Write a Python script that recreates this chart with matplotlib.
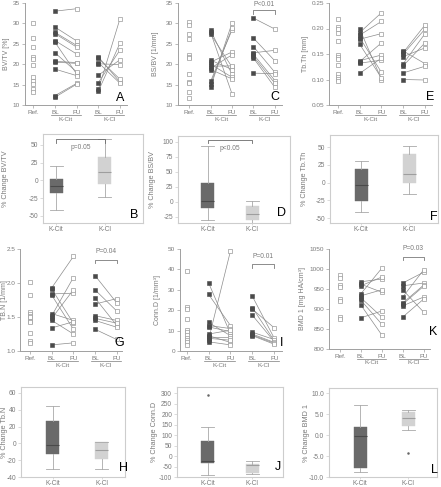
import matplotlib
matplotlib.use("Agg")
import matplotlib.pyplot as plt

plt.rcParams["font.family"] = ["Liberation Sans", "DejaVu Sans"]

W, H = 441, 487

# ---- scatter panels (Ref / BL / FU) ----
A_ref = [30.1, 26.5, 24.1, 21.8, 21.3, 19.8, 16.9, 15.8, 15.2, 13.8, 13.2]
A_cit_bl = [33.0, 29.1, 27.8, 27.5, 25.8, 25.4, 22.8, 20.7, 20.5, 18.8, 12.3, 11.9]
A_cit_fu = [33.6, 25.7, 24.6, 24.2, 22.5, 17.6, 18.1, 20.4, 20.2, 17.2, 15.3, 15.1]
A_cl_bl = [21.8, 21.4, 20.4, 20.1, 17.3, 15.5, 13.8, 13.4]
A_cl_fu = [15.6, 16.3, 15.3, 19.9, 21.1, 23.5, 31.2, 25.2]

C_ref = [30.3, 29.6, 27.4, 26.2, 22.2, 21.8, 21.5, 17.6, 15.7, 15.3, 13.2, 11.6]
C_cit_bl = [28.3, 27.8, 27.4, 21.0, 20.5, 20.0, 19.5, 19.0, 18.7, 15.8, 15.2, 14.4]
C_cit_fu = [17.5, 12.7, 19.3, 18.7, 23.0, 16.8, 19.6, 22.3, 16.4, 28.4, 28.8, 30.1]
C_cl_bl = [31.3, 26.4, 24.3, 22.8, 22.4, 21.9, 21.5, 17.8]
C_cl_fu = [28.6, 20.8, 18.0, 23.4, 16.0, 15.3, 14.3, 17.7]

E_ref = [0.218, 0.203, 0.200, 0.191, 0.175, 0.148, 0.144, 0.140, 0.128, 0.111, 0.104, 0.101, 0.097]
E_cit_bl = [0.199, 0.192, 0.187, 0.182, 0.179, 0.169, 0.137, 0.135, 0.132, 0.112]
E_cit_fu = [0.100, 0.231, 0.214, 0.114, 0.190, 0.103, 0.148, 0.172, 0.138, 0.142]
E_cl_bl = [0.156, 0.153, 0.150, 0.145, 0.131, 0.127, 0.113, 0.100]
E_cl_fu = [0.131, 0.207, 0.199, 0.162, 0.190, 0.172, 0.126, 0.099]

G_ref = [2.01, 1.83, 1.58, 1.55, 1.52, 1.50, 1.44, 1.42, 1.27, 1.15, 1.12]
G_cit_bl = [1.93, 1.91, 1.84, 1.82, 1.55, 1.52, 1.48, 1.45, 1.34, 1.09]
G_cit_fu = [2.39, 1.41, 1.85, 1.32, 1.45, 2.08, 1.90, 1.25, 1.43, 1.12]
G_cl_bl = [2.11, 1.90, 1.78, 1.69, 1.52, 1.48, 1.45, 1.32]
G_cl_fu = [1.71, 1.59, 1.38, 1.77, 1.45, 1.41, 1.35, 1.17]

I_ref = [39.0, 21.7, 20.8, 15.7, 10.5, 9.5, 8.0, 6.5, 5.3, 4.2, 3.0]
I_cit_bl = [33.5, 27.8, 14.0, 12.5, 11.8, 8.3, 7.5, 6.8, 6.2, 5.5, 4.5]
I_cit_fu = [8.5, 12.5, 7.5, 11.0, 9.5, 10.2, 4.2, 6.5, 5.3, 49.0, 3.0]
I_cl_bl = [26.8, 21.2, 20.5, 17.5, 9.2, 8.3, 7.8, 7.5]
I_cl_fu = [6.2, 5.0, 11.3, 4.6, 5.6, 4.2, 3.8, 3.3]

K_ref = [985, 978, 960, 955, 925, 920, 880, 876]
K_cit_bl = [968, 962, 958, 938, 933, 928, 922, 910, 878]
K_cit_fu = [975, 942, 980, 1002, 948, 880, 862, 835, 895]
K_cl_bl = [965, 958, 948, 930, 915, 912, 908, 880]
K_cl_fu = [992, 965, 892, 998, 960, 957, 930, 925]

# ---- box panels: (whislo, q1, med, q3, whishi) ----
B_cit = [-41, -17, -8, 2, 21]
B_cl = [-23, -5, 12, 33, 58]
D_cit = [-30, -10, 2, 32, 93]
D_cl = [-35, -30, -20, -7, 2]
F_cit = [-42, -26, -3, 19, 30]
F_cl = [-16, 0, 12, 40, 51]
H_cit = [-30, -13, -2, 26, 45]
H_cl = [-30, -19, -8, 1.5, 2]
J_cit = [-92, -31, -22, 72, 138]
J_cl = [-88, -81, -45, -38, -22]
J_cit_fliers = [290]
L_cit = [-8.8, -7.8, -0.3, 1.9, 7.2]
L_cl = [1.1, 2.2, 4.1, 5.4, 5.9]
L_cl_fliers = [-4.4]

SCATTER_TICKS = ["Ref.", "BL", "FU", "BL", "FU"]
GROUPS = ["K-Cit", "K-Cl"]

TXT = "#7a7a7a"
SPINE = "#a0a0a0"
FRAME = "#cdcdcd"

fig = plt.figure(figsize=(W / 100, H / 100), dpi=100)


def px_rect(l, t, r, b):
    return [l / W, 1 - b / H, (r - l) / W, (b - t) / H]


def letter(x, y, s):
    fig.text(x / W, 1 - y / H, s, fontsize=9, ha="center", va="center", color="black")


def scatter_panel(rect, xlim, ylim, yticks, ylabel, lab_x, ref, cit_bl, cit_fu, cl_bl, cl_fu,
                  fmt="{:g}", bracket=None, ypad=1.5):
    ax = fig.add_axes(px_rect(*rect))
    for bl, fu, x0 in [(cit_bl, cit_fu, 1), (cl_bl, cl_fu, 3)]:
        for a, b in zip(bl, fu):
            ax.plot([x0, x0 + 1], [a, b], color="#8c8c8c", lw=0.5, zorder=1)
        ax.plot([x0] * len(bl), bl, "s", ms=2.6, mfc="#4a4a4a", mec="#4a4a4a", mew=0.4, zorder=3)
        ax.plot([x0 + 1] * len(fu), fu, "s", ms=2.6, mfc="white", mec="#9a9a9a", mew=0.5, zorder=3)
    ax.plot([0] * len(ref), ref, "s", ms=2.6, mfc="white", mec="#9a9a9a", mew=0.5, zorder=3)
    ax.set_xlim(*xlim)
    ax.set_ylim(*ylim)
    ax.set_yticks(yticks)
    ax.set_yticklabels([fmt.format(v) for v in yticks])
    ax.set_xticks(range(5))
    ax.set_xticklabels(SCATTER_TICKS)
    for s in ["top", "right"]:
        ax.spines[s].set_visible(False)
    for s in ["left", "bottom"]:
        ax.spines[s].set_color(SPINE)
        ax.spines[s].set_linewidth(0.7)
    ax.tick_params(length=2, width=0.5, color=SPINE, labelsize=4.6, labelcolor=TXT, pad=1.5)
    ax.tick_params(axis="y", pad=ypad)
    ax.set_ylabel(ylabel, fontsize=5, color=TXT)
    ax.yaxis.set_label_coords(lab_x + 3 / (rect[2] - rect[0]), 0.5)
    trans = ax.get_xaxis_transform()
    for x0, name in zip([1, 3], GROUPS):
        ax.plot([x0 - 0.2, x0 + 1.2], [-0.1, -0.1], transform=trans, clip_on=False,
                color=TXT, lw=0.5)
        ax.text(x0 + 0.5, -0.14, name, transform=trans, ha="center", va="center",
                fontsize=4.6, color=TXT)
    if bracket is not None:
        y_line, y_end, y_txt, label = bracket
        ax.plot([3, 3, 4, 4], [y_end, y_line, y_line, y_end], color=TXT, lw=0.6, clip_on=False)
        ax.text(3.5, y_txt, label, ha="center", va="center", fontsize=4.8, color=TXT, clip_on=False)
    return ax


def box_panel(rect, xlim, ylim, yticks, ylabel, lab_x, cit, cl, cit_fliers=(), cl_fliers=(),
              fmt="{:g}", bracket=None):
    ax = fig.add_axes(px_rect(*rect))
    px_per_unit = (rect[2] - rect[0]) / (xlim[1] - xlim[0])
    width = 13 / px_per_unit
    stats = []
    for name, s, fl in [("K-Cit", cit, cit_fliers), ("K-Cl", cl, cl_fliers)]:
        stats.append(dict(label=name, whislo=s[0], q1=s[1], med=s[2], q3=s[3], whishi=s[4],
                          fliers=list(fl)))
    bp = ax.bxp(stats, positions=[1, 2], widths=width, patch_artist=True, showfliers=True,
                boxprops=dict(linewidth=0.3),
                whiskerprops=dict(color="#a8a8a8", lw=0.6),
                capprops=dict(color="#a8a8a8", lw=0.6),
                medianprops=dict(lw=0.8),
                flierprops=dict(marker="o", ms=0.8, mfc="#666", mec="#666"),
                capwidths=width)
    faces = ["#6a6a6a", "#d2d2d2"]
    meds = ["#4a4a4a", "#9e9e9e"]
    for patch, fc in zip(bp["boxes"], faces):
        patch.set_facecolor(fc)
        patch.set_edgecolor(fc)
    for m, c in zip(bp["medians"], meds):
        m.set_color(c)
    ax.set_xlim(*xlim)
    ax.set_ylim(*ylim)
    ax.set_yticks(yticks)
    ax.set_yticklabels([fmt.format(v) for v in yticks])
    for s in ax.spines.values():
        s.set_color(FRAME)
        s.set_linewidth(0.8)
    ax.tick_params(length=2, width=0.5, color=FRAME, labelsize=4.8, labelcolor=TXT, pad=1.5)
    ax.tick_params(axis="x", length=1.5, pad=1)
    ax.set_ylabel(ylabel, fontsize=5.2, color=TXT)
    ax.yaxis.set_label_coords(lab_x + 3 / (rect[2] - rect[0]), 0.5)
    if bracket is not None:
        y_line, y_end, y_txt, label = bracket
        ax.plot([1, 1, 2, 2], [y_end, y_line, y_line, y_end], color="#6a6a6a", lw=0.6)
        ax.text(1.5, y_txt, label, ha="center", va="center", fontsize=4.8, color=TXT)
    return ax


# row 1
scatter_panel((25, 3, 127, 105), (-0.38, 4.32), (10, 35), [10, 15, 20, 25, 30, 35],
              "BV/TV [%]", -0.18, A_ref, A_cit_bl, A_cit_fu, A_cl_bl, A_cl_fu)
scatter_panel((178, 3, 282, 105), (-0.52, 4.33), (10, 35), [10, 15, 20, 25, 30, 35],
              "BS/BV [1/mm]", -0.21, C_ref, C_cit_bl, C_cit_fu, C_cl_bl, C_cl_fu,
              bracket=(33.2, 32.3, 34.6, "P<0.01"))
scatter_panel((329, 3, 432, 105), (-0.41, 4.32), (0.05, 0.25), [0.05, 0.10, 0.15, 0.20, 0.25],
              "Tb.Th [mm]", -0.22, E_ref, E_cit_bl, E_cit_fu, E_cl_bl, E_cl_fu, fmt="{:.2f}")

# row 2
box_panel((43, 134, 143, 223), (0.73, 2.78), (-60, 65.5), [-50, -25, 0, 25, 50],
          "% Change BV/TV", -0.37, B_cit, B_cl, bracket=(58.5, 52.8, 47, "p=0.05"))
box_panel((178, 136, 290, 223), (0.32, 2.86), (-35, 109.5), [-25, 0, 25, 50, 75, 100],
          "% Change BS/BV", -0.22, D_cit, D_cl, bracket=(103, 98, 89.5, "p<0.05"))
box_panel((330, 135, 438, 223), (0.35, 2.6), (-57, 67), [-50, -25, 0, 25, 50],
          "% Change Tb.Th", -0.23, F_cit, F_cl)

# row 3
scatter_panel((20, 249, 122, 351), (-0.47, 4.25), (1.0, 2.5), [1.0, 1.5, 2.0, 2.5],
              "TB.N [1/mm]", -0.15, G_ref, G_cit_bl, G_cit_fu, G_cl_bl, G_cl_fu, fmt="{:.1f}",
              bracket=(2.34, 2.29, 2.47, "P=0.04"), ypad=1)
scatter_panel((180, 249, 282, 351), (-0.3, 4.35), (0, 50), [0, 10, 20, 30, 40, 50],
              "Conn.D [1/mm³]", -0.22, I_ref, I_cit_bl, I_cit_fu, I_cl_bl, I_cl_fu,
              bracket=(42.6, 40.6, 46.3, "P=0.01"))
scatter_panel((329, 249, 430, 349), (-0.52, 4.3), (800, 1050), [800, 850, 900, 950, 1000, 1050],
              "BMD 1 [mg HA/cm³]", -0.26, K_ref, K_cit_bl, K_cit_fu, K_cl_bl, K_cl_fu,
              bracket=(1031, 1022, 1050, "P=0.03"))

# row 4
box_panel((21, 387, 125, 477), (0.35, 2.47), (-40, 67), [-40, -20, 0, 20, 40, 60],
          "% Change Tb.N", -0.15, H_cit, H_cl)
box_panel((177, 387, 283, 477), (0.3, 2.7), (-100, 330), [-100, -50, 0, 50, 100, 150, 200, 250, 300],
          "% Change Conn.D", -0.21, J_cit, J_cl, cit_fliers=J_cit_fliers)
box_panel((329, 388, 437, 477), (0.35, 2.6), (-10, 11.2), [-10, -5, 0, 5, 10],
          "% Change BMD 1", -0.2, L_cit, L_cl, cl_fliers=L_cl_fliers, fmt="{:.1f}")

for x, y, s in [(120, 98, "A"), (275, 97, "C"), (430, 97, "E"),
                (134, 215, "B"), (282, 213, "D"), (434, 217, "F"),
                (119, 343, "G"), (282, 343, "I"), (433, 332, "K"),
                (124, 468, "H"), (278, 467, "J"), (434, 470, "L")]:
    letter(x, y, s)

fig.savefig("out.png", dpi=100)
